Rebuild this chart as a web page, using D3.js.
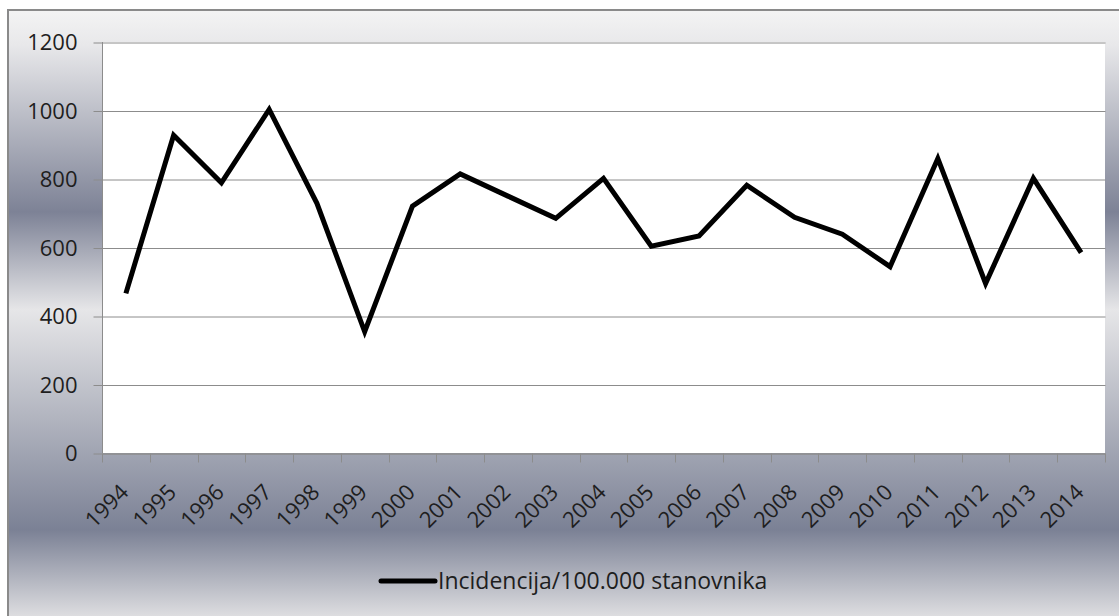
<!DOCTYPE html>
<html>
<head>
<meta charset="utf-8">
<script src="https://cdn.jsdelivr.net/npm/d3@7"></script>
<style>
  body { margin: 0; background: #fff; }
  svg { display: block; font-family: "Open Sans", "Noto Sans", sans-serif; }
</style>
</head>
<body>
<div id="chart"></div>
<script>
// data
const years = ['1994', '1995', '1996', '1997', '1998', '1999', '2000', '2001', '2002', '2003',
  '2004', '2005', '2006', '2007', '2008', '2009', '2010', '2011', '2012', '2013', '2014'];
const incidence = [466, 928, 789, 1003, 729, 354, 721, 815, 750, 685,
  802, 604, 634, 782, 688, 639, 544, 860, 495, 802, 585];
const yTicks = [0, 200, 400, 600, 800, 1000, 1200];
const seriesName = 'Incidencija/100.000 stanovnika';

const dataset = years.map((y, i) => ({ year: y, value: incidence[i] }));

// size of the svg area
const w = 1119;
const h = 616;
// plot area
const plotLeft = 102, plotRight = 1105, plotTop = 42, plotBottom = 453;

const svg = d3.select('#chart')
  .append('svg')
  .attr('width', w)
  .attr('height', h);

// chrome-like gradient for the chart area
const grad = svg.append('defs')
  .append('linearGradient')
  .attr('id', 'bg')
  .attr('gradientUnits', 'userSpaceOnUse')
  .attr('x1', 0).attr('y1', 9)
  .attr('x2', 0).attr('y2', 616);

[[9, '#f4f4f4'], [45, '#e8e8ea'], [212, '#7d8296'], [310, '#e6e6e8'],
 [530, '#7b8195'], [616, '#dddde0']].forEach(s => {
  grad.append('stop')
    .attr('offset', (s[0] - 9) / (616 - 9))
    .attr('stop-color', s[1]);
});

svg.append('rect')
  .attr('x', 8)
  .attr('y', 10)
  .attr('width', 1200)
  .attr('height', 700)
  .attr('fill', 'url(#bg)')
  .attr('stroke', '#8a8a8a')
  .attr('stroke-width', 2);

// scales
const xScale = d3.scaleBand()
  .domain(years)
  .range([plotLeft, plotRight])
  .padding(0);

const yScale = d3.scaleLinear()
  .domain([0, 1200])
  .range([plotBottom, plotTop]);

// white plot area
svg.append('rect')
  .attr('x', plotLeft)
  .attr('y', plotTop)
  .attr('width', plotRight - plotLeft)
  .attr('height', plotBottom - plotTop)
  .attr('fill', '#fff');

// y axis with gridlines
const yAxis = d3.axisLeft(yScale)
  .tickValues(yTicks)
  .tickSize(-(plotRight - plotLeft))
  .tickPadding(25)
  .tickFormat(d3.format('d'));

const gy = svg.append('g')
  .attr('transform', 'translate(' + (plotLeft + 0.5) + ',0.5)')
  .call(yAxis);

gy.select('.domain').remove();
gy.selectAll('.tick line')
  .attr('x1', -9)
  .attr('stroke', '#8c8c8c');
gy.selectAll('.tick text')
  .attr('font-size', 22)
  .attr('fill', '#1e1e1e')
  .attr('font-family', '"Open Sans", sans-serif');

// left axis line
svg.append('line')
  .attr('x1', plotLeft + 0.5).attr('x2', plotLeft + 0.5)
  .attr('y1', plotTop).attr('y2', plotBottom)
  .attr('stroke', '#8c8c8c');

// x axis: labels centered on the bands, ticks at band edges
const xAxis = d3.axisBottom(xScale).tickSize(0).tickPadding(0);
const gx = svg.append('g')
  .attr('transform', 'translate(0,' + (plotBottom + 0.5) + ')')
  .call(xAxis);

gx.select('.domain').attr('stroke', '#8c8c8c');
gx.selectAll('.tick line').remove();
gx.selectAll('.tick text')
  .attr('font-size', 22)
  .attr('fill', '#1e1e1e')
  .attr('font-family', '"Open Sans", sans-serif')
  .attr('text-anchor', 'end')
  .attr('y', 0)
  .attr('dy', 0)
  .attr('transform', 'translate(4,40) rotate(-45)');

const edges = years.map(y => xScale(y)).concat([plotRight]);
gx.selectAll('.edge')
  .data(edges)
  .enter()
  .append('line')
  .attr('class', 'edge')
  .attr('x1', d => Math.round(d) + 0.5)
  .attr('x2', d => Math.round(d) + 0.5)
  .attr('y1', 0)
  .attr('y2', 9)
  .attr('stroke', '#8c8c8c');

// the series line
const line = d3.line()
  .x(d => xScale(d.year) + xScale.bandwidth() / 2)
  .y(d => yScale(d.value));

svg.append('path')
  .datum(dataset)
  .attr('d', line)
  .attr('fill', 'none')
  .attr('stroke', '#000')
  .attr('stroke-width', 5)
  .attr('stroke-linejoin', 'miter');

// legend
const legend = svg.append('g')
  .attr('transform', 'translate(381,581)');

legend.append('line')
  .attr('x1', 0).attr('x2', 54)
  .attr('y1', 0).attr('y2', 0)
  .attr('stroke', '#000')
  .attr('stroke-width', 5)
  .attr('stroke-linecap', 'round');

legend.append('text')
  .attr('x', 57)
  .attr('y', 0)
  .attr('dy', '0.35em')
  .attr('font-size', 23)
  .attr('fill', '#1e1e1e')
  .text(seriesName);
</script>
</body>
</html>
